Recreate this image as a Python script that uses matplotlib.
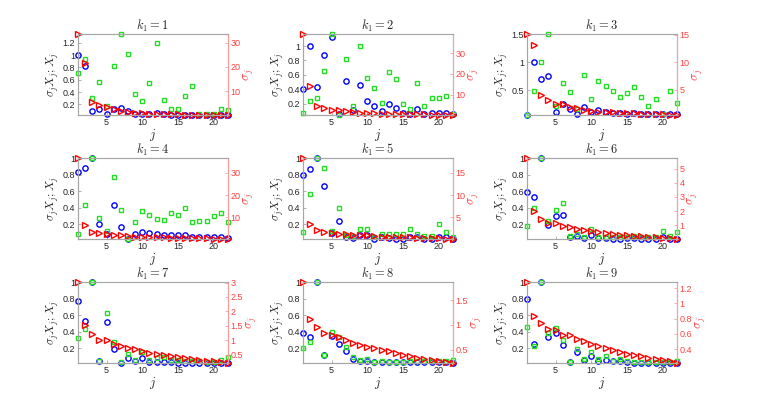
import numpy as np
import matplotlib
matplotlib.use("Agg")
import matplotlib.pyplot as plt
from matplotlib.ticker import MultipleLocator, FormatStrFormatter

plt.rcParams["font.family"] = ["Liberation Sans", "DejaVu Sans"]
plt.rcParams["mathtext.fontset"] = "cm"

j = np.arange(1, 23)
k1_values = [1, 2, 3, 4, 5, 6, 7, 8, 9]

# blue circles (left axis)
blue_vals = [
    [1.0, 0.83, 0.09, 0.13, 0.05, 0.12, 0.15, 0.10, 0.05, 0.04, 0.05, 0.07, 0.04, 0.035, 0.03, 0.03, 0.03, 0.03, 0.03, 0.03, 0.03, 0.03],
    [0.40, 1.0, 0.43, 0.87, 1.12, 0.05, 0.52, 0.11, 0.46, 0.24, 0.16, 0.09, 0.19, 0.14, 0.07, 0.06, 0.12, 0.06, 0.07, 0.07, 0.07, 0.05],
    [0.05, 1.0, 0.69, 0.75, 0.11, 0.25, 0.15, 0.07, 0.19, 0.10, 0.14, 0.11, 0.09, 0.08, 0.075, 0.085, 0.065, 0.065, 0.06, 0.06, 0.075, 0.06],
    [0.83, 0.88, 1.0, 0.20, 0.08, 0.43, 0.17, 0.02, 0.08, 0.11, 0.09, 0.075, 0.07, 0.07, 0.07, 0.07, 0.04, 0.04, 0.04, 0.04, 0.04, 0.03],
    [0.79, 0.87, 1.0, 0.66, 0.09, 0.24, 0.04, 0.035, 0.07, 0.07, 0.02, 0.04, 0.03, 0.025, 0.025, 0.045, 0.04, 0.025, 0.025, 0.05, 0.04, 0.025],
    [0.59, 0.53, 1.0, 0.19, 0.30, 0.305, 0.05, 0.06, 0.03, 0.07, 0.03, 0.03, 0.025, 0.025, 0.03, 0.03, 0.02, 0.02, 0.02, 0.04, 0.025, 0.02],
    [0.77, 0.53, 1.0, 0.05, 0.52, 0.19, 0.025, 0.08, 0.04, 0.08, 0.03, 0.03, 0.035, 0.03, 0.025, 0.025, 0.02, 0.02, 0.02, 0.02, 0.02, 0.02],
    [0.38, 0.34, 1.0, 0.12, 0.35, 0.25, 0.16, 0.07, 0.05, 0.05, 0.03, 0.03, 0.03, 0.03, 0.03, 0.03, 0.03, 0.03, 0.03, 0.03, 0.03, 0.02],
    [0.80, 0.25, 1.0, 0.34, 0.38, 0.24, 0.03, 0.15, 0.06, 0.10, 0.04, 0.06, 0.04, 0.04, 0.03, 0.025, 0.025, 0.02, 0.025, 0.025, 0.025, 0.025],
]

# green squares (left axis)
green_vals = [
    [0.71, 0.93, 0.30, 0.56, 0.18, 0.82, 1.34, 1.01, 0.37, 0.26, 0.55, 1.19, 0.27, 0.12, 0.12, 0.33, 0.50, 0.05, 0.04, 0.04, 0.13, 0.11],
    [0.07, 0.24, 0.27, 0.65, 1.167, 0.04, 0.82, 0.16, 1.0, 0.56, 0.41, 0.21, 0.64, 0.54, 0.19, 0.13, 0.49, 0.16, 0.27, 0.27, 0.30, 0.06],
    [0.05, 0.49, 1.0, 1.51, 0.22, 0.62, 0.46, 0.16, 0.78, 0.34, 0.67, 0.57, 0.48, 0.38, 0.45, 0.56, 0.38, 0.22, 0.33, 0.07, 0.49, 0.27],
    [0.08, 0.43, 1.0, 0.27, 0.12, 0.77, 0.37, 0.02, 0.23, 0.36, 0.31, 0.26, 0.25, 0.33, 0.31, 0.40, 0.22, 0.24, 0.24, 0.30, 0.33, 0.23],
    [0.11, 0.57, 1.0, 0.88, 0.12, 0.39, 0.07, 0.06, 0.14, 0.14, 0.05, 0.08, 0.08, 0.075, 0.075, 0.14, 0.075, 0.06, 0.055, 0.20, 0.11, 0.05],
    [0.18, 0.39, 1.0, 0.24, 0.37, 0.45, 0.06, 0.08, 0.04, 0.14, 0.05, 0.05, 0.045, 0.05, 0.05, 0.06, 0.05, 0.045, 0.05, 0.12, 0.06, 0.10],
    [0.32, 0.43, 1.0, 0.05, 0.62, 0.27, 0.03, 0.13, 0.06, 0.15, 0.06, 0.08, 0.095, 0.06, 0.055, 0.045, 0.04, 0.045, 0.035, 0.03, 0.06, 0.09],
    [0.20, 0.28, 1.0, 0.12, 0.39, 0.34, 0.21, 0.09, 0.055, 0.07, 0.03, 0.04, 0.03, 0.03, 0.03, 0.04, 0.04, 0.04, 0.04, 0.04, 0.04, 0.06],
    [0.46, 0.22, 1.0, 0.38, 0.44, 0.30, 0.03, 0.19, 0.07, 0.15, 0.065, 0.10, 0.05, 0.065, 0.045, 0.035, 0.03, 0.03, 0.03, 0.03, 0.03, 0.04],
]

# red triangles, sigma_j (right axis)
sigma_vals = [
    [33.6, 21.4, 5.4, 4.4, 3.6, 2.4, 1.8, 1.4, 1.1, 0.85, 0.7, 0.55, 0.45, 0.38, 0.32, 0.27, 0.23, 0.2, 0.17, 0.15, 0.13, 0.1],
    [39.4, 14.1, 4.6, 3.7, 2.7, 2.4, 1.9, 1.5, 1.2, 1.05, 0.9, 0.8, 0.7, 0.6, 0.5, 0.45, 0.4, 0.35, 0.3, 0.25, 0.2, 0.1],
    [15.1, 13.1, 4.1, 3.2, 2.5, 2.4, 1.9, 1.7, 1.4, 1.2, 1.1, 1.0, 0.95, 0.9, 0.85, 0.8, 0.75, 0.7, 0.65, 0.6, 0.55, 0.48],
    [36.6, 6.4, 3.6, 2.8, 2.5, 2.2, 1.9, 1.6, 1.3, 1.3, 1.2, 1.1, 1.0, 0.95, 0.9, 0.8, 0.7, 0.6, 0.55, 0.5, 0.4, 0.3],
    [18.3, 3.4, 2.2, 1.7, 1.5, 1.35, 1.3, 1.1, 1.0, 0.97, 0.75, 0.7, 0.65, 0.6, 0.55, 0.5, 0.45, 0.4, 0.35, 0.3, 0.22, 0.15],
    [5.75, 2.04, 1.47, 1.16, 1.16, 0.98, 0.86, 0.74, 0.67, 0.6, 0.53, 0.46, 0.39, 0.34, 0.29, 0.26, 0.22, 0.2, 0.15, 0.12, 0.08, 0.035],
    [3.02, 1.54, 1.23, 1.02, 1.02, 0.87, 0.81, 0.73, 0.68, 0.63, 0.57, 0.52, 0.49, 0.45, 0.42, 0.38, 0.35, 0.32, 0.29, 0.27, 0.25, 0.21],
    [1.87, 1.12, 0.95, 0.84, 0.80, 0.75, 0.70, 0.63, 0.60, 0.56, 0.53, 0.50, 0.47, 0.43, 0.40, 0.37, 0.34, 0.32, 0.30, 0.28, 0.25, 0.23],
    [1.28, 0.84, 0.74, 0.67, 0.65, 0.59, 0.585, 0.53, 0.505, 0.47, 0.44, 0.42, 0.39, 0.36, 0.34, 0.33, 0.31, 0.29, 0.27, 0.255, 0.24, 0.22],
]

left_step = [0.2, 0.2, 0.5, 0.2, 0.2, 0.2, 0.2, 0.2, 0.2]
right_step = [10, 10, 5, 10, 5, 1, 0.5, 0.5, 0.2]

W, H = 774, 401
col_left = [78, 303, 527]
row_top = [34, 158, 282]
ax_w, ax_h = 150, 81

gray = "#a6a6a6"
red_axis = "#ff9a9a"
red_text = "#ff4040"
green = "#22dd22"

fig = plt.figure(figsize=(W / 100, H / 100), dpi=100)

for i in range(9):
    r, c = divmod(i, 3)
    ax = fig.add_axes([col_left[c] / W, 1 - (row_top[r] + ax_h) / H, ax_w / W, ax_h / H])
    ax2 = ax.twinx()

    ax.plot(j, blue_vals[i], "o", mfc="none", mec="b", ms=3.8, mew=1.0, clip_on=False)
    ax.plot(j, green_vals[i], "s", mfc="none", mec=green, ms=3.2, mew=1.0, clip_on=False)
    ax2.plot(j, sigma_vals[i], ">", mfc="none", mec="r", ms=4.0, mew=1.0, clip_on=False)

    lo = min(min(blue_vals[i]), min(green_vals[i]))
    hi = max(max(blue_vals[i]), max(green_vals[i]))
    ax.set_ylim(lo, hi)
    ax2.set_ylim(min(sigma_vals[i]), max(sigma_vals[i]))
    ax.set_xlim(1, 22)

    ax.xaxis.set_major_locator(MultipleLocator(5))
    ax.yaxis.set_major_locator(MultipleLocator(left_step[i]))
    ax2.yaxis.set_major_locator(MultipleLocator(right_step[i]))
    ax.yaxis.set_major_formatter(FormatStrFormatter("%g"))
    ax2.yaxis.set_major_formatter(FormatStrFormatter("%g"))

    for a in (ax, ax2):
        for s in a.spines.values():
            s.set_color(gray)
            s.set_linewidth(0.8)
    ax2.spines["right"].set_color(red_axis)
    ax.tick_params(direction="in", length=2.5, width=0.6, color=gray,
                   labelsize=6.5, labelcolor="#262626", pad=2)
    ax2.tick_params(direction="in", length=2.5, width=0.6, color=red_axis,
                    labelsize=6.5, labelcolor=red_text, pad=2)

    ax.set_title(r"$k_1 = %d$" % k1_values[i], fontsize=9, pad=2, color="#262626")
    ax.set_xlabel(r"$j$", fontsize=9, labelpad=0, color="#262626")
    ax.set_ylabel(r"$\sigma_j X_j; X_j$", fontsize=8.5, labelpad=1, color="#262626")
    ax2.set_ylabel(r"$\sigma_j$", fontsize=9, labelpad=1, color=red_text)

fig.savefig("out.png", dpi=100)
